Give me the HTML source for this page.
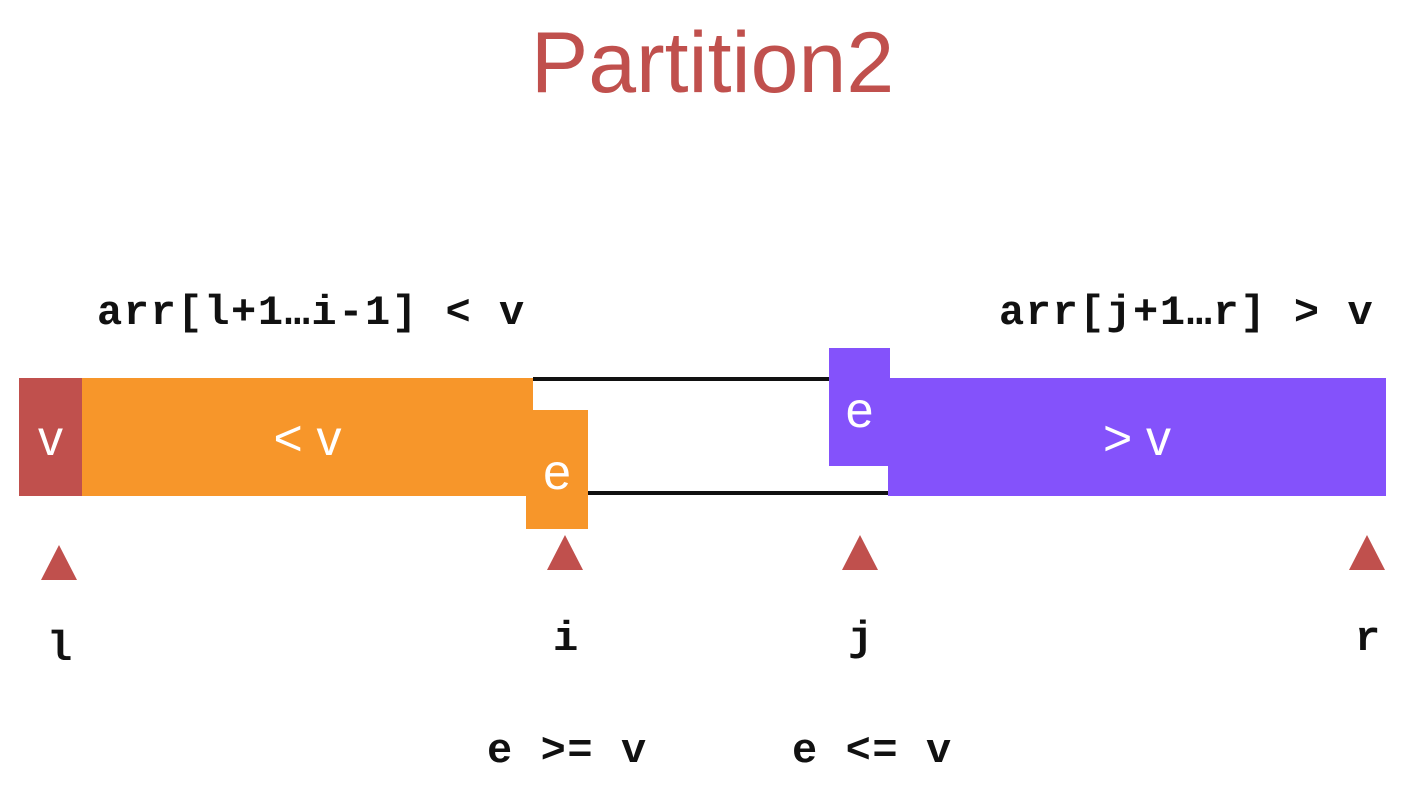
<!DOCTYPE html>
<html><head><meta charset="utf-8"><style>
body{margin:0;width:1405px;height:807px;background:#fff;position:relative;overflow:hidden;font-family:"Liberation Sans",sans-serif}
.a{position:absolute}
.m{position:absolute;font-family:"Liberation Mono",monospace;font-weight:bold;font-size:42px;letter-spacing:1.6px;color:#111;white-space:pre;line-height:1}
.w{position:absolute;color:#fff;font-size:50px;text-align:center;line-height:1}
.t{position:absolute;width:0;height:0;border-left:18px solid transparent;border-right:18px solid transparent;border-bottom:35px solid #c0504d}
</style></head><body>
<div class="a" style="left:0;width:1405px;top:18px;text-align:center;font-size:86px;color:#c0504d;line-height:1.05;padding-left:20px;box-sizing:border-box">Partition2</div>
<div class="m" style="left:97px;top:292px">arr[l+1…i-1] &lt; v</div>
<div class="m" style="left:999px;top:292px">arr[j+1…r] &gt; v</div>
<div class="a" style="left:533px;top:377px;width:296px;height:4px;background:#111"></div>
<div class="a" style="left:588px;top:491px;width:300px;height:4px;background:#111"></div>
<div class="a" style="left:19px;top:378px;width:63px;height:118px;background:#c0504d"></div>
<div class="a" style="left:82px;top:378px;width:451px;height:118px;background:#f7962a"></div>
<div class="a" style="left:526px;top:410px;width:62px;height:119px;background:#f7962a"></div>
<div class="a" style="left:888px;top:378px;width:498px;height:118px;background:#8452fb"></div>
<div class="a" style="left:829px;top:348px;width:61px;height:118px;background:#8452fb"></div>
<div class="w" style="left:19px;width:63px;top:413px">v</div>
<div class="w" style="left:82px;width:451px;top:413px">&lt; v</div>
<div class="w" style="left:526px;width:62px;top:447px">e</div>
<div class="w" style="left:829px;width:61px;top:385px">e</div>
<div class="w" style="left:888px;width:498px;top:413px">&gt; v</div>
<div class="t" style="left:41px;top:545px"></div>
<div class="t" style="left:547px;top:535px"></div>
<div class="t" style="left:842px;top:535px"></div>
<div class="t" style="left:1349px;top:535px"></div>
<div class="m" style="left:47px;top:628px">l</div>
<div class="m" style="left:553px;top:618px">i</div>
<div class="m" style="left:848px;top:618px">j</div>
<div class="m" style="left:1355px;top:618px">r</div>
<div class="m" style="left:487px;top:730px">e &gt;= v</div>
<div class="m" style="left:792px;top:730px">e &lt;= v</div>
</body></html>
